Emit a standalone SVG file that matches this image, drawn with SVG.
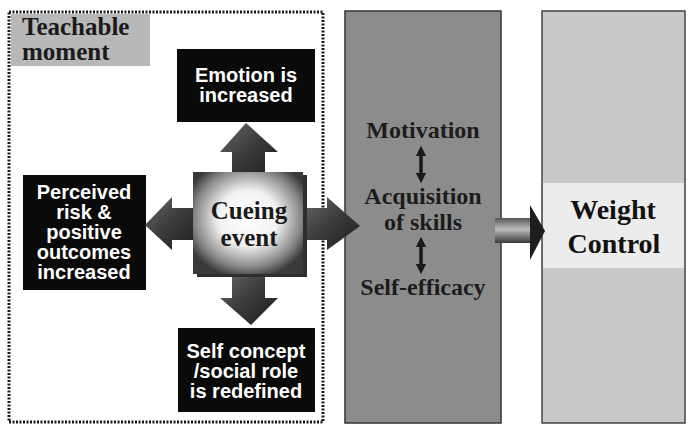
<svg xmlns="http://www.w3.org/2000/svg" width="694" height="432" viewBox="0 0 694 432">
<style>
.serif{font-family:"Liberation Serif","Times New Roman",serif;font-weight:bold;}
.sans{font-family:"Liberation Sans",Arial,sans-serif;font-weight:bold;fill:#fff;font-size:20px;text-anchor:middle;}
.blk{fill:#0a0a0a;}
.mid{font-size:24px;fill:#1c1c1c;text-anchor:middle;}
.arr{fill:url(#arrG);}
</style>
<defs>
<linearGradient id="arrG" x1="0" y1="0" x2="1" y2="1">
<stop offset="0" stop-color="#6a6a6a"/>
<stop offset="0.5" stop-color="#3a3a3a"/>
<stop offset="1" stop-color="#1e1e1e"/>
</linearGradient>
<radialGradient id="cueG" cx="0.5" cy="0.45" r="0.6">
<stop offset="0" stop-color="#ffffff"/>
<stop offset="0.45" stop-color="#f2f2f2"/>
<stop offset="0.8" stop-color="#8a8a8a"/>
<stop offset="1" stop-color="#3a3a3a"/>
</radialGradient>
<linearGradient id="shaftG" x1="0" y1="0" x2="0" y2="1">
<stop offset="0" stop-color="#555"/>
<stop offset="0.45" stop-color="#bdbdbd"/>
<stop offset="1" stop-color="#3a3a3a"/>
</linearGradient>
<marker id="dh" viewBox="0 0 10 10" refX="5" refY="5" markerWidth="3" markerHeight="3" orient="auto-start-reverse">
<path d="M0,0 L10,5 L0,10 Z" fill="#1a1a1a"/>
</marker>
</defs>
<rect width="694" height="432" fill="#fff"/>

<g id="teachable-moment">
<rect x="9" y="12" width="314" height="410" fill="none" stroke="#1a1a1a" stroke-width="3" stroke-dasharray="2 1.5"/>
<rect x="11" y="14" width="139" height="52" fill="#b8b8b8"/>
<text class="serif" x="22" y="35" font-size="25" fill="#1a1a1a">Teachable</text>
<text class="serif" x="22" y="60" font-size="25" fill="#1a1a1a">moment</text>
</g>

<g id="skills">
<rect x="345" y="11" width="156" height="412" fill="#8c8c8c" stroke="#333" stroke-width="1.5"/>
<text class="serif mid" x="423" y="138">Motivation</text>
<text class="serif mid" x="423" y="204">Acquisition</text>
<text class="serif mid" x="423" y="230">of skills</text>
<text class="serif mid" x="423" y="295">Self-efficacy</text>
</g>

<g id="weight-control">
<rect x="542" y="11" width="143" height="412" fill="#c9c9c9" stroke="#444" stroke-width="1.5"/>
<rect x="543" y="183" width="141" height="85" fill="#ececec"/>
<text class="serif" x="613" y="219" font-size="28" fill="#111" text-anchor="middle">Weight</text>
<text class="serif" x="614" y="253" font-size="28" fill="#111" text-anchor="middle">Control</text>
</g>

<g id="emotion">
<rect x="177" y="49" width="138" height="73" class="blk"/>
<text class="sans" x="246" y="82">Emotion is</text>
<text class="sans" x="246" y="102">increased</text>
</g>

<g id="perceived">
<rect x="23" y="175" width="123" height="115" class="blk"/>
<text class="sans" x="84" y="199">Perceived</text>
<text class="sans" x="84" y="219">risk &amp;</text>
<text class="sans" x="84" y="239">positive</text>
<text class="sans" x="84" y="259">outcomes</text>
<text class="sans" x="84" y="279">increased</text>
</g>

<g id="self-concept">
<rect x="178" y="328" width="137" height="84" class="blk"/>
<text class="sans" x="246" y="358">Self concept</text>
<text class="sans" x="246" y="378">/social role</text>
<text class="sans" x="246" y="398">is redefined</text>
</g>

<g id="connectors">
<polygon class="arr" points="246,123 278,152 265,152 265,176 232,176 232,152 220,152"/>
<polygon class="arr" points="232,272 265,272 265,298 278,298 251,325 220,298 232,298"/>
<polygon class="arr" points="145,225 172,197 172,208 197,208 197,240 172,240 172,250"/>
<polygon class="arr" points="303,208 327,208 327,197 360,226 327,250 327,240 303,240"/>
<rect x="495" y="218" width="36" height="25" fill="url(#shaftG)"/>
<polygon points="530,205 545,231 530,260" fill="#1e1e1e"/>
<line x1="421" y1="151" x2="421" y2="178" stroke="#1a1a1a" stroke-width="3.5" marker-start="url(#dh)" marker-end="url(#dh)"/>
<line x1="421" y1="242" x2="421" y2="269" stroke="#1a1a1a" stroke-width="3.5" marker-start="url(#dh)" marker-end="url(#dh)"/>
</g>

<g id="cueing-event">
<rect x="197" y="175" width="110" height="102" fill="#2e2e2e"/>
<rect x="193" y="172" width="110" height="102" fill="url(#cueG)"/>
<text class="serif" x="249" y="219" font-size="25" fill="#1a1a1a" text-anchor="middle">Cueing</text>
<text class="serif" x="249" y="246" font-size="25" fill="#1a1a1a" text-anchor="middle">event</text>
</g>
</svg>
